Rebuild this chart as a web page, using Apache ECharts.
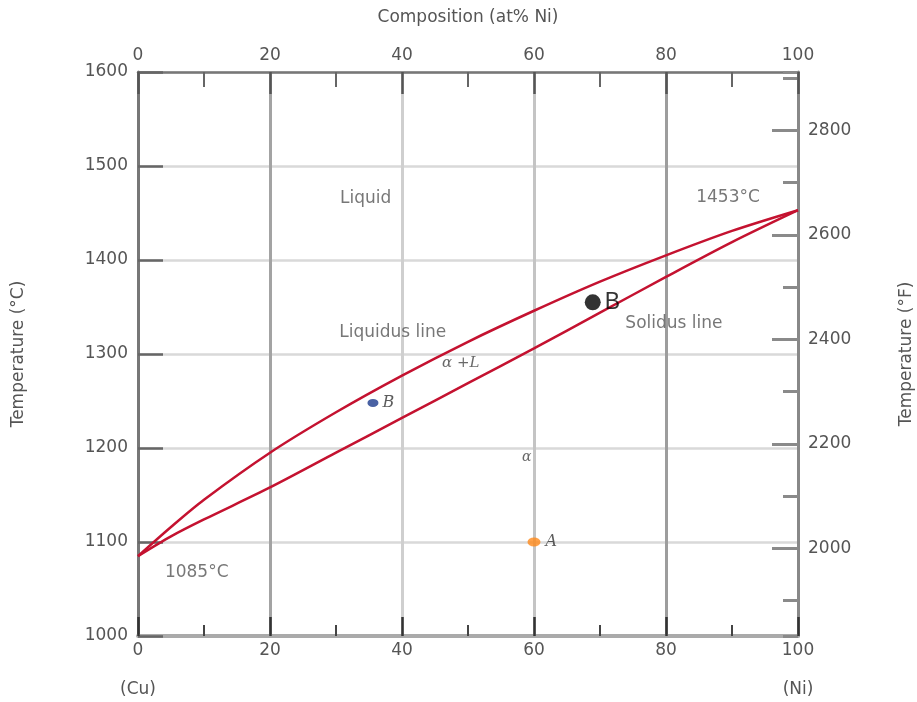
<!DOCTYPE html>
<html><head><meta charset="utf-8">
<script src="https://cdn.jsdelivr.net/npm/echarts@6/dist/echarts.min.js"></script>
<style>html,body{margin:0;padding:0;background:#fff}#c{width:917px;height:702px}</style>
</head><body><div id="c"></div>
<script>
// ---- data ----
const liquidusX = [0, 5, 10, 20, 30, 40, 50, 60, 70, 80, 90, 100];
const liquidusT = [1085, 1116, 1145, 1195, 1238, 1277, 1313, 1346, 1377, 1405, 1431, 1453];
const solidusX = [0, 5, 10, 20, 30, 40, 50, 60, 70, 80, 90, 100];
const solidusT = [1085, 1106, 1124, 1158, 1195, 1232, 1269, 1306, 1344, 1382, 1419, 1453];
const pointX = [35.6, 60, 68.9];
const pointT = [1248, 1100, 1355];
const pointNames = ['B', 'A', 'B'];
const noteText = ['Liquid', '1453°C', 'Liquidus line', 'α +L', 'α', 'Solidus line', '1085°C'];
const noteX = [34.5, 89.4, 38.6, 48.9, 58.9, 81.2, 8.9];
const noteT = [1465, 1466, 1323, 1290, 1190, 1332, 1068];
const tempCMin = 1000, tempCMax = 1600;
const tempFMin = tempCMin * 1.8 + 32, tempFMax = tempCMax * 1.8 + 32;

// ---- styles ----
const FONT = 'DejaVu Sans';
const SERIF = 'DejaVu Serif';
const TXT = '#555';
const RED = '#c41230';

const pointStyles = [
  {size: [11, 8], color: '#1b3a8c', label: {fontFamily: SERIF, fontStyle: 'italic', fontSize: 16, color: '#333', distance: 4}},
  {size: [13, 9], color: '#ff8a1a', label: {fontFamily: SERIF, fontStyle: 'italic', fontSize: 16, color: '#333', distance: 5}},
  {size: 16, color: '#000', label: {fontFamily: 'Liberation Sans', fontSize: 23, color: '#000', distance: 4}}
];
const serifNotes = {'α +L': 15, 'α': 14};

const chart = echarts.init(document.getElementById('c'), null, {renderer: 'canvas'});
const tickLabel = {fontFamily: FONT, fontSize: 17, color: TXT};
const nameStyle = {fontFamily: FONT, fontSize: 17, color: TXT};
const gridRect = {left: 138, right: 119, top: 72, bottom: 66, outerBoundsMode: 'none', containLabel: false};

const option = {
  animation: false,
  backgroundColor: '#fff',
  grid: [Object.assign({}, gridRect), Object.assign({}, gridRect)],
  xAxis: [
    {
      type: 'value', gridIndex: 0, position: 'bottom', min: 0, max: 100, interval: 20,
      name: 'Composition (wt% Ni)', nameLocation: 'middle', nameGap: 44, nameTextStyle: nameStyle,
      axisLine: {onZero: false, lineStyle: {color: '#aaa', width: 4}},
      axisTick: {inside: true, length: 19, lineStyle: {color: '#333', width: 2.5}},
      minorTick: {show: true, splitNumber: 2, length: 11, lineStyle: {color: '#444', width: 2}},
      axisLabel: Object.assign({}, tickLabel, {margin: 5, lineHeight: 19.5,
        formatter: v => v === 0 ? '0\n\n(Cu)' : (v === 100 ? '100\n\n(Ni)' : String(v))}),
      splitLine: {show: true, showMinLine: false, showMaxLine: false,
        lineStyle: {color: ['#a3a3a3', '#cfcfcf', '#c4c4c4', '#9d9d9d'], width: 3}}
    },
    {
      type: 'value', gridIndex: 0, position: 'top', min: 0, max: 100, interval: 20,
      name: 'Composition (at% Ni)', nameLocation: 'middle', nameGap: 46, nameTextStyle: nameStyle,
      axisLine: {onZero: false, lineStyle: {color: '#777', width: 2.5}},
      axisTick: {inside: true, length: 22, lineStyle: {color: '#555', width: 2.5}},
      minorTick: {show: true, splitNumber: 2, length: 15, lineStyle: {color: '#666', width: 2}},
      axisLabel: Object.assign({}, tickLabel, {margin: 8, formatter: v => String(v)}),
      splitLine: {show: false}
    },
    {
      type: 'value', gridIndex: 1, position: 'bottom', min: 0, max: 100, show: false,
      axisLine: {onZero: false}
    }
  ],
  yAxis: [
    {
      type: 'value', gridIndex: 0, position: 'left', min: tempCMin, max: tempCMax, interval: 100,
      name: 'Temperature (°C)', nameLocation: 'middle', nameGap: 111, nameRotate: 90, nameTextStyle: nameStyle,
      axisLine: {onZero: false, lineStyle: {color: '#777', width: 3}},
      axisTick: {inside: true, length: 25, lineStyle: {color: '#666', width: 2.5}},
      axisLabel: Object.assign({}, tickLabel, {margin: 10, formatter: v => String(v)}),
      splitLine: {show: true, lineStyle: {color: '#d9d9d9', width: 2.5}}
    },
    {
      type: 'value', gridIndex: 0, position: 'right', min: tempFMin, max: tempFMax, splitNumber: 5,
      name: 'Temperature (°F)', nameLocation: 'middle', nameGap: 100, nameRotate: 90, nameTextStyle: nameStyle,
      axisLine: {onZero: false, lineStyle: {color: '#888', width: 3}},
      axisTick: {inside: true, length: 26, lineStyle: {color: '#8a8a8a', width: 3}},
      axisLabel: Object.assign({}, tickLabel, {margin: 10, showMinLabel: false, showMaxLabel: false, formatter: v => String(v)}),
      splitLine: {show: false}
    },
    {
      type: 'value', gridIndex: 1, position: 'right', min: tempFMin, max: tempFMax, splitNumber: 10,
      axisLine: {show: false, onZero: false},
      axisTick: {inside: true, length: 15, lineStyle: {color: '#8a8a8a', width: 3}},
      axisLabel: {show: false},
      splitLine: {show: false}
    }
  ],
  series: [
    {
      type: 'line', name: 'Liquidus', xAxisIndex: 0, yAxisIndex: 0, smooth: 0.3, symbol: 'none', z: 4,
      data: liquidusX.map((x, i) => [x, liquidusT[i]]),
      lineStyle: {color: RED, width: 2.5}
    },
    {
      type: 'line', name: 'Solidus', xAxisIndex: 0, yAxisIndex: 0, smooth: 0.3, symbol: 'none', z: 4,
      data: solidusX.map((x, i) => [x, solidusT[i]]),
      lineStyle: {color: RED, width: 2.5}
    },
    {
      type: 'scatter', name: 'Points', xAxisIndex: 0, yAxisIndex: 0, z: 6,
      data: pointX.map((x, i) => ({
        value: [x, pointT[i]], name: pointNames[i],
        symbolSize: pointStyles[i].size,
        itemStyle: {color: pointStyles[i].color},
        label: Object.assign({show: true, position: 'right', formatter: '{b}'}, pointStyles[i].label)
      }))
    },
    {
      type: 'scatter', name: 'Notes', xAxisIndex: 0, yAxisIndex: 0, z: 5, symbolSize: 0, silent: true,
      data: noteX.map((x, i) => {
        const t = noteText[i];
        const serif = serifNotes[t];
        return {
          value: [x, noteT[i]], name: t,
          label: {
            show: true, position: 'inside', formatter: '{b}',
            fontFamily: serif ? SERIF : FONT, fontStyle: serif ? 'italic' : 'normal',
            fontSize: serif ? serif : 17, color: serif ? '#444' : TXT
          }
        };
      })
    }
  ]
};
chart.setOption(option);
</script>
</body></html>
